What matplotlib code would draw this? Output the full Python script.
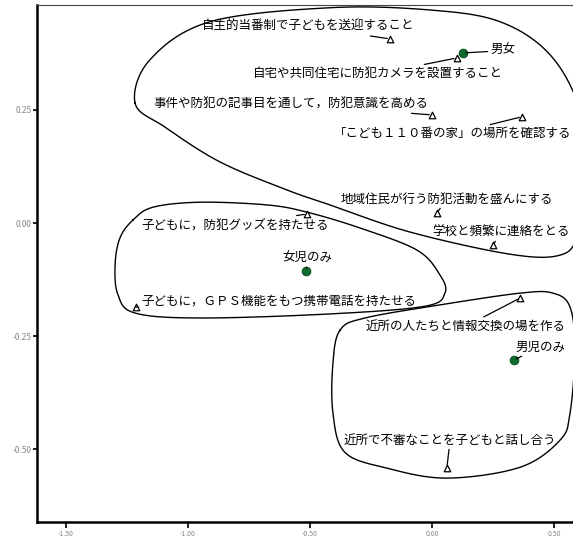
import numpy as np
import matplotlib
matplotlib.use("Agg")
import matplotlib.pyplot as plt

plt.rcParams['font.family'] = ['Noto Sans CJK JP', 'DejaVu Sans']

# 列ポイント（対策項目）
items = [
    "自主的当番制で子どもを送迎すること",
    "自宅や共同住宅に防犯カメラを設置すること",
    "事件や防犯の記事目を通して，防犯意識を高める",
    "「こども１１０番の家」の場所を確認する",
    "地域住民が行う防犯活動を盛んにする",
    "学校と頻繁に連絡をとる",
    "子どもに，防犯グッズを持たせる",
    "子どもに，ＧＰＳ機能をもつ携帯電話を持たせる",
    "近所の人たちと情報交換の場を作る",
    "近所で不審なことを子どもと話し合う",
]
item_x = [-0.172, 0.102, 0.000, 0.369, 0.020, 0.250, -0.512, -1.213, 0.361, 0.061]
item_y = [0.407, 0.365, 0.239, 0.235, 0.022, -0.049, 0.020, -0.186, -0.166, -0.542]

# 行ポイント（子どもの構成）
groups = ["男女", "女児のみ", "男児のみ"]
group_x = [0.127, -0.516, 0.336]
group_y = [0.376, -0.106, -0.303]

# クラスタを囲む線（読み取った輪郭点）
hull_top_x = [-1.217, -1.156, -0.910, -0.418, -0.008, 0.279, 0.484, 0.607, 0.648,
              0.598, 0.525, 0.320, -0.090, -0.418, -0.594, -0.869, -1.094]
hull_top_y = [0.265, 0.361, 0.445, 0.476, 0.471, 0.445, 0.372, 0.250, 0.095,
              -0.027, -0.071, -0.069, -0.020, 0.040, 0.073, 0.135, 0.212]
hull_mid_x = [-1.225, -1.143, -0.951, -0.676, -0.512, -0.295, -0.061, 0.033, 0.053,
              -0.029, -0.418, -0.951, -1.217, -1.287, -1.299, -1.279]
hull_mid_y = [0.007, 0.035, 0.046, 0.040, 0.024, -0.011, -0.060, -0.115, -0.155,
              -0.184, -0.201, -0.210, -0.199, -0.159, -0.093, -0.033]
hull_bot_x = [-0.377, -0.275, 0.033, 0.361, 0.496, 0.566, 0.586, 0.566, 0.525,
              0.361, 0.061, -0.184, -0.357, -0.406, -0.406]
hull_bot_y = [-0.237, -0.210, -0.181, -0.155, -0.155, -0.186, -0.281, -0.420, -0.480,
              -0.540, -0.564, -0.542, -0.507, -0.420, -0.310]

# ラベル位置（ggrepel 風に配置された位置）
item_label_pos = [(-0.508, 0.434), (-0.221, 0.330), (-0.578, 0.263), (0.085, 0.197),
                  (0.061, 0.053), (0.283, -0.020), (-0.807, -0.004), (-0.627, -0.173),
                  (0.139, -0.228), (0.074, -0.480)]
group_label_pos = [(0.291, 0.381), (-0.512, -0.077), (0.443, -0.274)]


def closed_curve(xs, ys, n=30):
    """Catmull-Rom で閉曲線をなめらかにする"""
    p = np.column_stack([xs, ys])
    m = len(p)
    out = []
    for i in range(m):
        p0, p1, p2, p3 = p[(i - 1) % m], p[i], p[(i + 1) % m], p[(i + 2) % m]
        t = np.linspace(0, 1, n, endpoint=False)[:, None]
        seg = 0.5 * ((2 * p1) + (-p0 + p2) * t + (2 * p0 - 5 * p1 + 4 * p2 - p3) * t ** 2
                     + (-p0 + 3 * p1 - 3 * p2 + p3) * t ** 3)
        out.append(seg)
    out = np.vstack(out + [out[0][:1]])
    return out[:, 0], out[:, 1]


fig = plt.figure(figsize=(5.73, 5.38), dpi=100)
ax = fig.add_axes([37 / 573, 16 / 538, 1 - 37 / 573, 517 / 538])

for hx, hy in [(hull_top_x, hull_top_y), (hull_mid_x, hull_mid_y), (hull_bot_x, hull_bot_y)]:
    cx, cy = closed_curve(hx, hy)
    ax.plot(cx, cy, color='black', lw=1.0, clip_on=False, zorder=1)

ax.scatter(item_x, item_y, marker='^', s=22, facecolors='white', edgecolors='black',
           linewidths=0.9, zorder=3)
ax.scatter(group_x, group_y, marker='o', s=40, color='#0e6b2f', edgecolors='#0a4a20',
           linewidths=0.6, zorder=3)

for name, x, y, (lx, ly) in zip(items, item_x, item_y, item_label_pos):
    ax.annotate(name, xy=(x, y), xytext=(lx, ly), ha='center', va='center', fontsize=9,
                annotation_clip=False,
                arrowprops=dict(arrowstyle='-', color='black', lw=0.9, shrinkA=0, shrinkB=2))
for name, x, y, (lx, ly) in zip(groups, group_x, group_y, group_label_pos):
    ax.annotate(name, xy=(x, y), xytext=(lx, ly), ha='center', va='center', fontsize=9,
                annotation_clip=False,
                arrowprops=dict(arrowstyle='-', color='black', lw=0.9, shrinkA=0, shrinkB=2))

ax.set_xlim(-1.619, 0.578)
ax.set_ylim(-0.661, 0.482)
ax.set_xticks([-1.5, -1.0, -0.5, 0.0, 0.5])
ax.set_xticklabels(["-1.50", "-1.00", "-0.50", "0.00", "0.50"])
ax.set_yticks([-0.5, -0.25, 0.0, 0.25])
ax.set_yticklabels(["-0.50", "-0.25", "0.00", "0.25"])
ax.tick_params(axis='x', labelsize=5, colors='#888888', length=4, width=1.2, pad=2)
ax.tick_params(axis='y', labelsize=6, colors='#888888', length=3, width=1.2, pad=1)
ax.tick_params(axis='both', which='major', color='black')

ax.spines['right'].set_visible(False)
ax.spines['left'].set_linewidth(1.8)
ax.spines['bottom'].set_linewidth(1.8)
ax.spines['top'].set_linewidth(0.8)
ax.spines['top'].set_color('#444444')

fig.savefig("out.png", dpi=100)
